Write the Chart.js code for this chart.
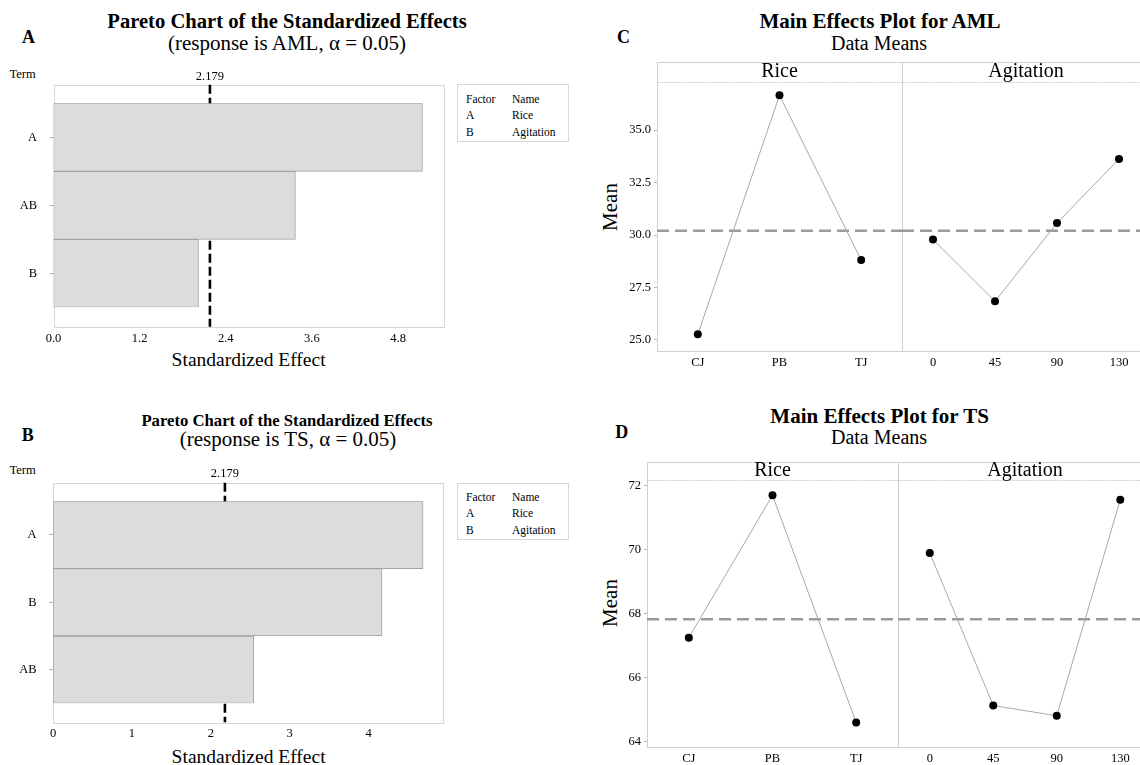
<!DOCTYPE html>
<html>
<head>
<meta charset="utf-8">
<script src="https://cdn.jsdelivr.net/npm/chart.js@4.4.1/dist/chart.umd.min.js"></script>
<style>
  html, body { margin: 0; padding: 0; width: 1140px; height: 765px; overflow: hidden; background: #fff; }
  #page { position: relative; width: 1140px; height: 765px; overflow: hidden;
          font-family: "Liberation Serif", "Times New Roman", serif; color: #000; }
  canvas { position: absolute; }
  .t { position: absolute; white-space: nowrap; line-height: 1; transform: translate(-50%, -50%); }
  .l { position: absolute; white-space: nowrap; line-height: 1; transform: translateY(-50%); }
  .b { font-weight: bold; }
  .rot { transform: translate(-50%, -50%) rotate(-90deg); }
  .legendBox { position: absolute; border: 1px solid #d8d8d8; box-sizing: border-box; }
</style>
</head>
<body>
<div id="page">
  <!-- Pareto chart, response AML -->
  <div class="t b" style="left:287px;top:20.7px;font-size:20.6px">Pareto Chart of the Standardized Effects</div>
  <div class="t" style="left:287px;top:43.3px;font-size:21px">(response is AML, α = 0.05)</div>
  <div class="t b" style="left:28.5px;top:37.3px;font-size:18px">A</div>
  <div class="t" style="left:22.6px;top:74px;font-size:12.5px">Term</div>
  <div class="t" style="left:248.6px;top:360px;font-size:19.5px">Standardized Effect</div>
  <div class="legendBox" id="legendAML" style="left:457px;top:84px;width:112px;height:58px"></div>
  <canvas id="paretoAML" width="460" height="320" style="left:0;top:60px"></canvas>

  <!-- Pareto chart, response TS -->
  <div class="t b" style="left:287px;top:420.7px;font-size:16.7px">Pareto Chart of the Standardized Effects</div>
  <div class="t" style="left:288px;top:439.3px;font-size:21px">(response is TS, α = 0.05)</div>
  <div class="t b" style="left:27.7px;top:435px;font-size:18px">B</div>
  <div class="t" style="left:22.6px;top:470px;font-size:12.5px">Term</div>
  <div class="t" style="left:248.6px;top:756.7px;font-size:19.5px">Standardized Effect</div>
  <div class="legendBox" id="legendTS" style="left:457px;top:482.7px;width:112px;height:57px"></div>
  <canvas id="paretoTS" width="460" height="309" style="left:0;top:456px"></canvas>

  <!-- Main effects, AML -->
  <div class="t b" style="left:880px;top:20.7px;font-size:21px">Main Effects Plot for AML</div>
  <div class="t" style="left:879px;top:43.3px;font-size:20px">Data Means</div>
  <div class="t b" style="left:623.6px;top:37.3px;font-size:18px">C</div>
  <div class="t rot" style="left:609.6px;top:206.7px;font-size:21px">Mean</div>
  <canvas id="amlRice" width="330" height="320" style="left:580px;top:55px"></canvas>
  <canvas id="amlAgitation" width="270" height="320" style="left:895px;top:55px"></canvas>

  <!-- Main effects, TS -->
  <div class="t b" style="left:879.6px;top:416px;font-size:21px">Main Effects Plot for TS</div>
  <div class="t" style="left:879px;top:436.7px;font-size:20px">Data Means</div>
  <div class="t b" style="left:621.8px;top:431.7px;font-size:18px">D</div>
  <div class="t rot" style="left:609.6px;top:603.3px;font-size:21px">Mean</div>
  <canvas id="tsRice" width="325" height="315" style="left:580px;top:450px"></canvas>
  <canvas id="tsAgitation" width="275" height="315" style="left:890px;top:450px"></canvas>
</div>

<script>
// ---- data ----
const paretoTermsAML = ['A', 'AB', 'B'];
const paretoEffectsAML = [5.14, 3.37, 2.02];
const paretoTicksAML = [0, 1.2, 2.4, 3.6, 4.8];

const paretoTermsTS = ['A', 'B', 'AB'];
const paretoEffectsTS = [4.69, 4.17, 2.545];
const paretoTicksTS = [0, 1, 2, 3, 4];

const criticalEffect = 2.179;

const factorCodes = ['A', 'B'];
const factorNames = ['Rice', 'Agitation'];

const riceLevels = ['CJ', 'PB', 'TJ'];
const agitationLevels = ['0', '45', '90', '130'];

const amlRiceMeans = [25.27, 36.65, 28.81];
const amlAgitationMeans = [29.78, 26.84, 30.57, 33.62];
const amlMeanTicks = [25, 27.5, 30, 32.5, 35];
const amlGrandMean = 30.2;

const tsRiceMeans = [67.25, 71.7, 64.6];
const tsAgitationMeans = [69.9, 65.13, 64.81, 71.56];
const tsMeanTicks = [64, 66, 68, 70, 72];
const tsGrandMean = 67.83;

// ---- shared settings ----
const SERIF = '"Liberation Serif", "Times New Roman", serif';
Chart.defaults.font.family = SERIF;
Chart.defaults.color = '#000';
Chart.defaults.animation = false;

// factor legend boxes beside the Pareto charts
function fillLegend(id, rowYs) {
  const box = document.getElementById(id);
  const rows = [['Factor', 'Name']].concat(factorCodes.map((c, i) => [c, factorNames[i]]));
  rows.forEach((r, i) => {
    const a = document.createElement('div');
    a.className = 'l'; a.style.fontSize = '11.5px';
    a.style.left = '8px'; a.style.top = rowYs[i] + 'px';
    a.textContent = r[0];
    const b = document.createElement('div');
    b.className = 'l'; b.style.fontSize = '11.5px';
    b.style.left = '54px'; b.style.top = rowYs[i] + 'px';
    b.textContent = r[1];
    box.appendChild(a); box.appendChild(b);
  });
}
fillLegend('legendAML', [14.7, 31.3, 48]);
fillLegend('legendTS', [14.3, 30.6, 47.3]);

// frame, critical-value reference line and its label for a Pareto chart
function paretoFrame(g) {
  return {
    id: 'paretoFrame',
    beforeDatasetsDraw(chart) {
      const { ctx, chartArea: a, scales: { x } } = chart;
      const top = a.top - g.boxTop, bottom = a.bottom + g.boxBottom;
      ctx.save();
      ctx.strokeStyle = '#d6d6d6';
      ctx.lineWidth = 1;
      ctx.strokeRect(Math.round(a.left) + 0.5, Math.round(top) + 0.5,
                     Math.round(a.right - a.left), Math.round(bottom - top));
      const px = x.getPixelForValue(criticalEffect);
      ctx.strokeStyle = '#000';
      ctx.lineWidth = 2.6;
      ctx.setLineDash([9, 4]);
      ctx.beginPath();
      ctx.moveTo(px, top);
      ctx.lineTo(px, bottom);
      ctx.stroke();
      ctx.setLineDash([]);
      ctx.fillStyle = '#000';
      ctx.font = '12.5px ' + SERIF;
      ctx.textAlign = 'center';
      ctx.textBaseline = 'middle';
      ctx.fillText(criticalEffect.toFixed(3), px, g.labelY);
      ctx.restore();
    }
  };
}

function makePareto(id, terms, effects, tickValues, decimals, xMax, g) {
  return new Chart(document.getElementById(id), {
    type: 'bar',
    data: {
      labels: terms,
      datasets: [{
        data: effects,
        backgroundColor: '#dcdcdc',
        borderColor: '#a3a3a3',
        borderWidth: 1,
        borderSkipped: false,
        barPercentage: 1,
        categoryPercentage: 1
      }]
    },
    options: {
      indexAxis: 'y',
      responsive: false,
      animation: false,
      layout: { padding: { top: g.padTop, right: g.padRight, left: 0, bottom: 0 } },
      plugins: { legend: { display: false }, tooltip: { enabled: false } },
      scales: {
        x: {
          type: 'linear', min: 0, max: xMax,
          afterBuildTicks: s => { s.ticks = tickValues.map(v => ({ value: v })); },
          afterFit: s => { s.height = g.xAxisH; },
          grid: { display: false, drawTicks: false },
          border: { display: false },
          ticks: { padding: g.xTickPad, font: { size: 12.5 }, autoSkip: false,
                   maxRotation: 0, callback: v => Number(v).toFixed(decimals) }
        },
        y: {
          afterFit: s => { s.width = g.yAxisW; },
          grid: { drawOnChartArea: false, offset: false, tickLength: 4, color: '#b5b5b5' },
          border: { display: false },
          ticks: { padding: 12.5, font: { size: 12.5 } }
        }
      }
    },
    plugins: [paretoFrame(g)]
  });
}

makePareto('paretoAML', paretoTermsAML, paretoEffectsAML, paretoTicksAML, 1, 5.43, {
  padTop: 43.3, padRight: 16.7, yAxisW: 53.5, xAxisH: 72.7, xTickPad: 23.5,
  boxTop: 18.6, boxBottom: 19.4, labelY: 16.7
});
makePareto('paretoTS', paretoTermsTS, paretoEffectsTS, paretoTicksTS, 0, 4.947, {
  padTop: 45.3, padRight: 16.7, yAxisW: 53, xAxisH: 61.7, xTickPad: 23.2,
  boxTop: 18.6, boxBottom: 19, labelY: 18
});

// panel frame, strip header and grand-mean reference line for a main effects panel
function effectsFrame(g) {
  return {
    id: 'effectsFrame',
    beforeDatasetsDraw(chart) {
      const { ctx, chartArea: a, scales: { y } } = chart;
      const L = Math.round(a.left) + 0.5, R = Math.round(a.right) + 0.5;
      const T = Math.round(a.top - g.headerH) + 0.5, B = Math.round(a.bottom) + 0.5;
      const H = Math.round(a.top) + 0.5;
      ctx.save();
      ctx.strokeStyle = '#cfcfcf';
      ctx.lineWidth = 1;
      ctx.strokeRect(L, T, R - L, B - T);
      ctx.setLineDash([2, 1]);
      ctx.beginPath();
      ctx.moveTo(L, H);
      ctx.lineTo(R, H);
      ctx.stroke();
      const py = y.getPixelForValue(g.grandMean);
      ctx.strokeStyle = '#9a9a9a';
      ctx.lineWidth = 2.5;
      ctx.setLineDash([12, 6]);
      ctx.beginPath();
      ctx.moveTo(a.left, py);
      ctx.lineTo(a.right, py);
      ctx.stroke();
      ctx.setLineDash([]);
      ctx.fillStyle = '#000';
      ctx.font = '20px ' + SERIF;
      ctx.textAlign = 'center';
      ctx.textBaseline = 'middle';
      ctx.fillText(g.strip, (a.left + a.right) / 2, a.top - g.headerH / 2);
      ctx.restore();
    }
  };
}

function makeEffects(id, levels, means, g) {
  return new Chart(document.getElementById(id), {
    type: 'line',
    data: {
      labels: levels,
      datasets: [{
        data: means,
        borderColor: '#a8a8a8',
        borderWidth: 1,
        pointRadius: 4,
        pointBackgroundColor: '#000',
        pointBorderColor: '#000',
        pointBorderWidth: 0,
        tension: 0,
        fill: false
      }]
    },
    options: {
      responsive: false,
      animation: false,
      layout: { padding: { top: g.padTop, right: g.padRight, left: g.padLeft, bottom: 0 } },
      plugins: { legend: { display: false }, tooltip: { enabled: false } },
      scales: {
        x: {
          offset: true,
          afterFit: s => { s.height = g.xAxisH; },
          grid: { display: false, drawTicks: false },
          border: { display: false },
          ticks: { padding: g.xTickPad, font: { size: 12.5 }, autoSkip: false, maxRotation: 0 }
        },
        y: {
          display: g.showY,
          min: g.yMin, max: g.yMax,
          afterBuildTicks: s => { s.ticks = g.yTicks.map(v => ({ value: v })); },
          afterFit: s => { s.width = g.yAxisW; },
          grid: { drawOnChartArea: false, tickLength: 3, color: '#b5b5b5' },
          border: { display: false },
          ticks: { padding: 3, font: { size: 12.5 }, callback: v => Number(v).toFixed(g.decimals) }
        }
      }
    },
    plugins: [effectsFrame(g)]
  });
}

const amlScale = { yMin: 24.476, yMax: 37.286, yTicks: amlMeanTicks, decimals: 1, grandMean: amlGrandMean,
                   headerH: 20, padTop: 27, xAxisH: 24, xTickPad: 4.2 };
makeEffects('amlRice', riceLevels, amlRiceMeans,
  Object.assign({}, amlScale, { showY: true, yAxisW: 77, padLeft: 0, padRight: 8, strip: 'Rice' }));
makeEffects('amlAgitation', agitationLevels, amlAgitationMeans,
  Object.assign({}, amlScale, { showY: false, yAxisW: 0, padLeft: 7, padRight: 15, strip: 'Agitation' }));

const tsScale = { yMin: 63.834, yMax: 72.178, yTicks: tsMeanTicks, decimals: 0, grandMean: tsGrandMean,
                  headerH: 18, padTop: 30, xAxisH: 18, xTickPad: 3.8 };
makeEffects('tsRice', riceLevels, tsRiceMeans,
  Object.assign({}, tsScale, { showY: true, yAxisW: 67, padLeft: 0, padRight: 7, strip: 'Rice' }));
makeEffects('tsAgitation', agitationLevels, tsAgitationMeans,
  Object.assign({}, tsScale, { showY: false, yAxisW: 0, padLeft: 8, padRight: 13, strip: 'Agitation' }));
</script>
</body>
</html>
